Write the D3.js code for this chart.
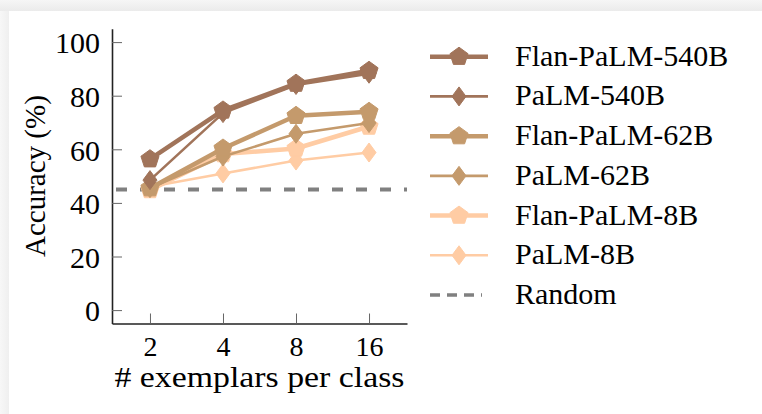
<!DOCTYPE html>
<html>
<head>
<meta charset="utf-8">
<script src="https://cdn.jsdelivr.net/npm/d3@7"></script>
<style>
  body { margin: 0; background: #fff; }
  svg { display: block; font-family: "Liberation Serif", "Times New Roman", serif; }
  svg text { font-family: "Liberation Serif", "Times New Roman", serif; }
</style>
</head>
<body>
<div id="chart"></div>
<script>
// few-shot accuracy vs number of exemplars per class
const exemplars = ["2", "4", "8", "16"];
const seriesNames = ["Flan-PaLM-540B", "PaLM-540B", "Flan-PaLM-62B", "PaLM-62B", "Flan-PaLM-8B", "PaLM-8B"];
const flan540 = [56.3, 74.5, 84.5, 89.3];
const palm540 = [48.5, 73.5, 84, 88.2];
const flan62 = [45.5, 60.3, 72.5, 74];
const palm62 = [45.5, 57.3, 65.8, 69.8];
const flan8 = [44.8, 58.2, 60.3, 68.5];
const palm8 = [46, 51, 55.8, 58.8];
const randomLevel = 45;
const yTicks = [0, 20, 40, 60, 80, 100];

const seriesValues = [flan540, palm540, flan62, palm62, flan8, palm8];
const colors = ["#a1745a", "#a1745a", "#c49a6c", "#c49a6c", "#ffcca4", "#ffcca4"];

const W = 762, H = 414;
const svg = d3.select("#chart").append("svg").attr("width", W).attr("height", H);

// soft screenshot shadow along top and left edges
const defs = svg.append("defs");
const gTop = defs.append("linearGradient").attr("id", "shTop").attr("x1", 0).attr("x2", 0).attr("y1", 0).attr("y2", 1);
gTop.append("stop").attr("offset", 0).attr("stop-color", "#f6f6f6");
gTop.append("stop").attr("offset", 1).attr("stop-color", "#ebebeb");
const gLeft = defs.append("linearGradient").attr("id", "shLeft").attr("x1", 0).attr("x2", 1).attr("y1", 0).attr("y2", 0);
gLeft.append("stop").attr("offset", 0).attr("stop-color", "#f7f7f7");
gLeft.append("stop").attr("offset", 1).attr("stop-color", "#efefef");
svg.append("rect").attr("width", W).attr("height", 11).attr("fill", "url(#shTop)");
svg.append("rect").attr("y", 11).attr("width", 9).attr("height", H - 11).attr("fill", "url(#shLeft)");

const x = d3.scalePoint().domain(exemplars).range([112, 407]).padding(0.52);
const y = d3.scaleLinear().domain([-5, 105]).range([323.5, 28.7]);
const serif = '"Liberation Serif", "Times New Roman", serif';

// axes
const xAxis = svg.append("g")
  .attr("transform", `translate(0,${y(-5)})`)
  .call(d3.axisBottom(x).tickSize(-10).tickSizeOuter(0).tickPadding(0));
xAxis.selectAll(".tick text").remove();
xAxis.selectAll(".tick").append("text")
  .attr("y", 32).attr("text-anchor", "middle")
  .attr("fill", "#000").style("font-size", "28px").style("font-family", serif)
  .text(d => d);

const yAxis = svg.append("g")
  .attr("transform", `translate(${x.range()[0]},0)`)
  .call(d3.axisLeft(y).tickValues(yTicks).tickSize(-10).tickSizeOuter(0));
yAxis.selectAll(".tick text").remove();
yAxis.selectAll(".tick").append("text")
  .attr("x", -12).attr("dy", "0.36em").attr("text-anchor", "end")
  .attr("fill", "#000").style("font-size", "30px").style("font-family", serif)
  .text(d => d);

[xAxis, yAxis].forEach(a => {
  a.attr("font-family", null).attr("font-size", null);
  a.select(".domain").attr("stroke", "#222").attr("stroke-width", 1.6);
  a.selectAll(".tick line").attr("stroke", "#666").attr("stroke-width", 1);
});

// axis titles
svg.append("text")
  .attr("x", (x.range()[0] + x.range()[1]) / 2).attr("y", 387)
  .attr("text-anchor", "middle").style("font-size", "29px")
  .attr("textLength", 290).attr("lengthAdjust", "spacingAndGlyphs")
  .text("# exemplars per class");
svg.append("text")
  .attr("transform", `translate(45,${(y(-5) + y(105)) / 2}) rotate(-90)`)
  .attr("text-anchor", "middle").style("font-size", "29px")
  .text("Accuracy (%)");

// random baseline
svg.append("line")
  .attr("x1", x.range()[0]).attr("x2", x.range()[1])
  .attr("y1", y(randomLevel)).attr("y2", y(randomLevel))
  .attr("stroke", "#808080").attr("stroke-width", 4)
  .attr("stroke-dasharray", "11,13").attr("stroke-dashoffset", -4);

// marker shapes
function pentagon(r) {
  const pts = d3.range(5).map(i => {
    const a = -Math.PI / 2 + i * 2 * Math.PI / 5;
    return [r * Math.cos(a), r * Math.sin(a)];
  });
  return "M" + pts.map(p => p.join(",")).join("L") + "Z";
}
function diamond(w, h) {
  return `M0,${-h}L${w},0L0,${h}L${-w},0Z`;
}
const isFlan = i => i % 2 === 0;
const markerPath = i => isFlan(i) ? pentagon(9.5) : diamond(7, 9.5);

const line = d3.line().x((d, j) => x(exemplars[j])).y(d => y(d));

// draw from lightest to darkest so the larger models sit on top
const order = [5, 4, 3, 2, 1, 0];
order.forEach(i => {
  const g = svg.append("g");
  g.append("path")
    .attr("d", line(seriesValues[i]))
    .attr("fill", "none").attr("stroke", colors[i])
    .attr("stroke-width", isFlan(i) ? 4.5 : 2.6)
    .attr("stroke-linejoin", "round");
  g.selectAll("path.mk").data(seriesValues[i]).enter().append("path")
    .attr("class", "mk")
    .attr("d", markerPath(i))
    .attr("transform", (d, j) => `translate(${x(exemplars[j])},${y(d)})`)
    .attr("fill", colors[i]).attr("stroke", colors[i]).attr("stroke-width", 1);
});

// legend
const legend = svg.append("g");
const rowY = d3.scaleLinear().domain([0, 6]).range([56.7, 295]);
seriesNames.forEach((name, i) => {
  const ly = rowY(i);
  legend.append("line")
    .attr("x1", 430).attr("x2", 488).attr("y1", ly).attr("y2", ly)
    .attr("stroke", colors[i]).attr("stroke-width", isFlan(i) ? 4.5 : 2.6);
  legend.append("path")
    .attr("d", markerPath(i))
    .attr("transform", `translate(459,${ly})`)
    .attr("fill", colors[i]).attr("stroke", colors[i]).attr("stroke-width", 1);
  legend.append("text")
    .attr("x", 515).attr("y", ly + 9).style("font-size", "30px")
    .text(name);
});
const ry = rowY(6);
legend.append("line")
  .attr("x1", 430).attr("x2", 482).attr("y1", ry).attr("y2", ry)
  .attr("stroke", "#808080").attr("stroke-width", 3.5)
  .attr("stroke-dasharray", "10,7");
legend.append("text")
  .attr("x", 515).attr("y", ry + 9).style("font-size", "30px")
  .text("Random");
</script>
</body>
</html>
